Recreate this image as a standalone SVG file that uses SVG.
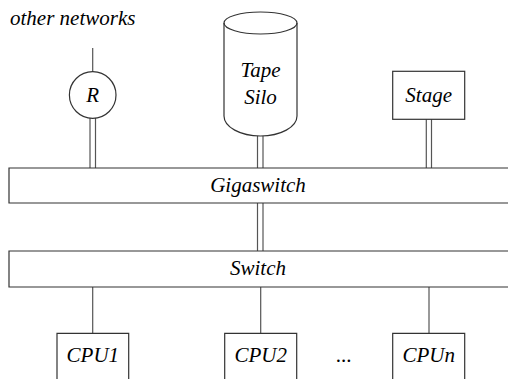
<svg xmlns="http://www.w3.org/2000/svg" width="508" height="379" viewBox="0 0 508 379">
<rect width="508" height="379" fill="#fff"/>
<g id="connectors" fill="none" stroke="#555" stroke-width="1.2">
<line x1="92.7" y1="48" x2="92.7" y2="72"/>
<line x1="90" y1="118" x2="90" y2="168"/>
<line x1="95.5" y1="118" x2="95.5" y2="168"/>
<line x1="257.5" y1="135" x2="257.5" y2="168"/>
<line x1="263" y1="135" x2="263" y2="168"/>
<line x1="426.3" y1="119" x2="426.3" y2="168"/>
<line x1="431.5" y1="119" x2="431.5" y2="168"/>
<line x1="257.5" y1="203" x2="257.5" y2="251"/>
<line x1="263" y1="203" x2="263" y2="251"/>
<line x1="92.7" y1="287" x2="92.7" y2="333"/>
<line x1="260.7" y1="287" x2="260.7" y2="333"/>
<line x1="429" y1="287" x2="429" y2="333"/>
</g>
<text x="10" y="25" font-family="Liberation Serif" font-style="italic" font-size="21">other networks</text>
<g id="router">
<circle cx="92.7" cy="95" r="23.3" fill="#fff" stroke="#333" stroke-width="1.2"/>
<text x="92.7" y="102" text-anchor="middle" font-family="Liberation Serif" font-style="italic" font-size="21">R</text>
</g>
<g id="tapesilo">
<path d="M224,23 A36.5,11 0 0 1 297,23 L297,116 A36.5,20 0 0 1 224,116 Z" fill="#fff" stroke="#333" stroke-width="1.2"/>
<path d="M224,23 A36.5,11 0 0 0 297,23" fill="none" stroke="#333" stroke-width="1.2"/>
<text x="260.5" y="77" text-anchor="middle" font-family="Liberation Serif" font-style="italic" font-size="21">Tape</text>
<text x="260.5" y="104" text-anchor="middle" font-family="Liberation Serif" font-style="italic" font-size="21">Silo</text>
</g>
<g id="stage">
<rect x="392.7" y="71.3" width="72" height="48" fill="#fff" stroke="#333" stroke-width="1.2"/>
<text x="428.7" y="102" text-anchor="middle" font-family="Liberation Serif" font-style="italic" font-size="21">Stage</text>
</g>
<g id="gigaswitch">
<path d="M510,168 L9,168 L9,203 L510,203" fill="#fff" stroke="#333" stroke-width="1.2"/>
<text x="258" y="192" text-anchor="middle" font-family="Liberation Serif" font-style="italic" font-size="21">Gigaswitch</text>
</g>
<g id="switch">
<path d="M510,251 L9,251 L9,287 L510,287" fill="#fff" stroke="#333" stroke-width="1.2"/>
<text x="258" y="275" text-anchor="middle" font-family="Liberation Serif" font-style="italic" font-size="21">Switch</text>
</g>
<g id="cpu1">
<path d="M57,381 L57,333.3 L128.7,333.3 L128.7,381" fill="#fff" stroke="#333" stroke-width="1.2"/>
<text x="92.8" y="362" text-anchor="middle" font-family="Liberation Serif" font-style="italic" font-size="21">CPU1</text>
</g>
<g id="cpu2">
<path d="M224.7,381 L224.7,333.3 L296.7,333.3 L296.7,381" fill="#fff" stroke="#333" stroke-width="1.2"/>
<text x="260.7" y="362" text-anchor="middle" font-family="Liberation Serif" font-style="italic" font-size="21">CPU2</text>
</g>
<text x="344" y="362" text-anchor="middle" font-family="Liberation Serif" font-style="italic" font-size="21">...</text>
<g id="cpun">
<path d="M392.7,381 L392.7,333.3 L464.7,333.3 L464.7,381" fill="#fff" stroke="#333" stroke-width="1.2"/>
<text x="428.7" y="362" text-anchor="middle" font-family="Liberation Serif" font-style="italic" font-size="21">CPUn</text>
</g>
</svg>
